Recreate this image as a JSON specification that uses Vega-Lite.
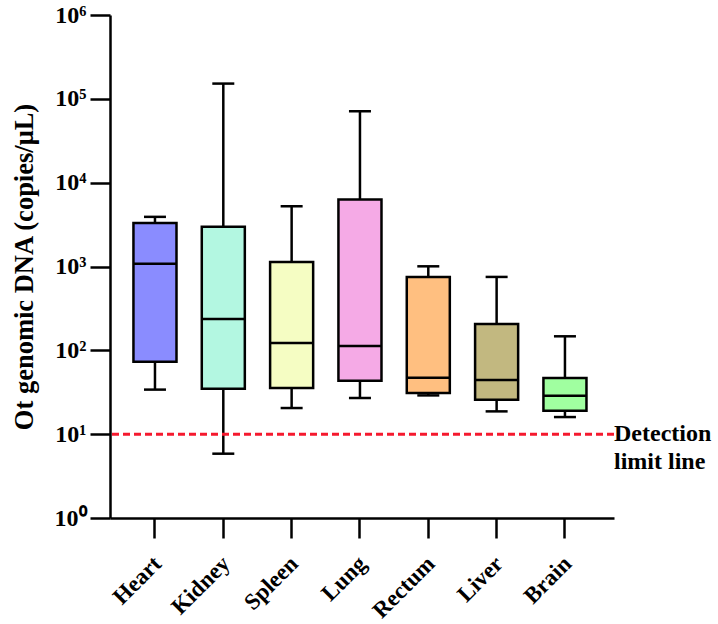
{
  "$schema": "https://vega.github.io/schema/vega-lite/v6.json",
  "autosize": "none",
  "width": 504,
  "height": 503,
  "padding": {"left": 110, "top": 15, "right": 104, "bottom": 106},
  "background": "white",
  "config": {
    "view": {"stroke": null},
    "font": "Liberation Serif",
    "axis": {
      "grid": false,
      "domainColor": "black",
      "domainWidth": 2.5,
      "tickColor": "black",
      "tickWidth": 2.5,
      "tickSize": 20,
      "labelFont": "Liberation Serif",
      "labelFontWeight": "bold",
      "labelColor": "black",
      "titleFont": "Liberation Serif",
      "titleFontWeight": "bold",
      "titleColor": "black"
    }
  },
  "datasets": {
    "organs": [
      {"organ": "Heart", "min": 34, "q1": 73.3, "median": 1075, "q3": 3311, "max": 3910, "fill": "#8a8cff"},
      {"organ": "Kidney", "min": 5.85, "q1": 34.9, "median": 237, "q3": 2970, "max": 152000, "fill": "#b3f7e1"},
      {"organ": "Spleen", "min": 20.5, "q1": 35.6, "median": 122.5, "q3": 1135, "max": 5230, "fill": "#f5fdc3"},
      {"organ": "Lung", "min": 27, "q1": 43.5, "median": 112.8, "q3": 6280, "max": 71100, "fill": "#f5aae6"},
      {"organ": "Rectum", "min": 29, "q1": 31, "median": 47.2, "q3": 751, "max": 1005, "fill": "#ffbf80"},
      {"organ": "Liver", "min": 18.7, "q1": 25.8, "median": 44.3, "q3": 206.5, "max": 751, "fill": "#c2b880"},
      {"organ": "Brain", "min": 16, "q1": 19, "median": 28.8, "q3": 46.9, "max": 147, "fill": "#a0ffa0"}
    ],
    "limit": [{"threshold": 10, "label": ["Detection", "limit line"]}]
  },
  "layer": [
    {
      "data": {"name": "organs"},
      "encoding": {
        "x": {
          "field": "organ",
          "type": "nominal",
          "sort": null,
          "scale": {"paddingInner": 0.37, "paddingOuter": 0.373, "align": 0.46},
          "axis": {
            "title": null,
            "labelAngle": -45,
            "labelFontSize": 23,
            "labelPadding": 14,
            "labelOffset": -5
          }
        },
        "y": {
          "type": "quantitative",
          "scale": {"type": "log", "domain": [1, 1000000]},
          "axis": {
            "title": "Ot genomic DNA (copies/μL)",
            "titleFontSize": 26.5,
            "titlePadding": 16,
            "values": [1, 10, 100, 1000, 10000, 100000, 1000000],
            "labelExpr": "'10' + ['⁰','¹','²','³','⁴','⁵','⁶'][round(log(datum.value) / LN10)]",
            "labelFontSize": 24,
            "labelPadding": 4
          }
        }
      },
      "layer": [
        {
          "mark": {"type": "rule", "color": "black", "strokeWidth": 2.5},
          "encoding": {"y": {"field": "min"}, "y2": {"field": "max"}}
        },
        {
          "mark": {"type": "bar", "stroke": "black", "strokeWidth": 2.5},
          "encoding": {
            "y": {"field": "q1"},
            "y2": {"field": "q3"},
            "fill": {"field": "fill", "type": "nominal", "scale": null}
          }
        },
        {
          "mark": {"type": "tick", "color": "black", "size": 43, "thickness": 2.5, "opacity": 1},
          "encoding": {"y": {"field": "median"}}
        },
        {
          "mark": {"type": "tick", "color": "black", "size": 22, "thickness": 2.5, "opacity": 1},
          "encoding": {"y": {"field": "min"}}
        },
        {
          "mark": {"type": "tick", "color": "black", "size": 22, "thickness": 2.5, "opacity": 1},
          "encoding": {"y": {"field": "max"}}
        }
      ]
    },
    {
      "data": {"name": "limit"},
      "layer": [
        {
          "mark": {"type": "rule", "color": "#f5192e", "strokeWidth": 3, "strokeDash": [7, 4]},
          "encoding": {"y": {"field": "threshold", "type": "quantitative"}}
        },
        {
          "mark": {
            "type": "text",
            "align": "left",
            "baseline": "middle",
            "fontSize": 24,
            "fontWeight": "bold",
            "font": "Liberation Serif",
            "lineHeight": 28,
            "color": "black",
            "x": {"expr": "width"},
            "dx": 0
          },
          "encoding": {
            "y": {"field": "threshold", "type": "quantitative"},
            "text": {"field": "label"}
          }
        }
      ]
    }
  ]
}
